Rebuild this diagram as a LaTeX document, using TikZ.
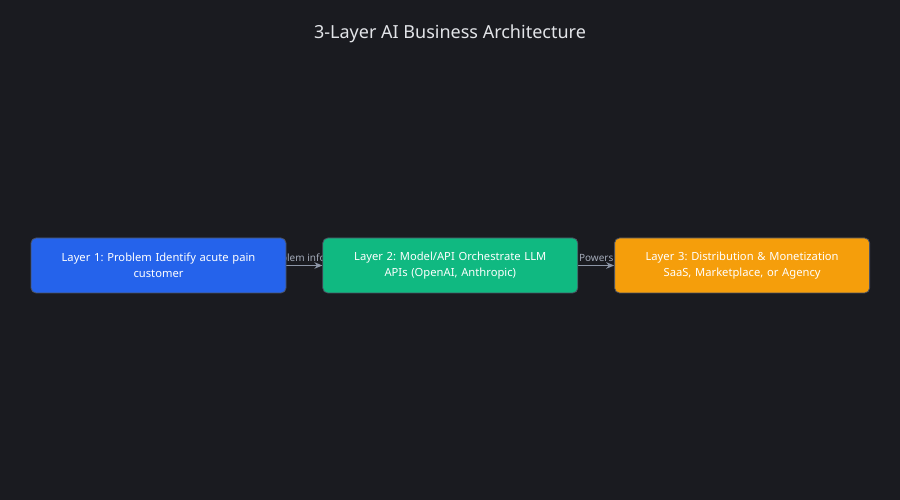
\documentclass[tikz,border=0pt]{standalone}
\usepackage{fontspec}
\setmainfont{Noto Sans}
\usepackage{tikz}
\usetikzlibrary{arrows.meta,positioning}
\definecolor{bgdark}{HTML}{1A1B20}
\definecolor{titletext}{HTML}{E2E4E8}
\definecolor{edgegray}{HTML}{8C95A6}
\definecolor{labgray}{HTML}{A3AAB8}
\definecolor{rim}{HTML}{4B5262}
\definecolor{cblue}{HTML}{2563EB}
\definecolor{cgreen}{HTML}{10B981}
\definecolor{corange}{HTML}{F59E0B}
\pgfdeclarelayer{back}
\pgfsetlayers{back,main}
\frenchspacing
\tikzset{
  >={Stealth[length=8pt,width=6.5pt]},
  layer/.style={draw=rim,line width=0.8pt,rounded corners=5pt,minimum width=255pt,minimum height=55pt,
    text width=235pt,align=center,text=white,font=\fontsize{11.2}{16.5}\selectfont},
  lblue/.style={layer,fill=cblue},
  lgreen/.style={layer,fill=cgreen},
  lorange/.style={layer,fill=corange},
  arr/.style={->,draw=edgegray,line width=1.8pt},
  lab/.style={font=\fontsize{10}{12}\selectfont,text=labgray,above,inner sep=2.5pt},
}
\begin{document}
\begin{tikzpicture}[x=1pt,y=1pt]
  \useasboundingbox (0,0) rectangle (900,500);
  \node[text=titletext,font=\fontsize{18}{21}\selectfont] (title) at (450,466) {3-Layer AI Business Architecture};
  % the three layers
  \node[lblue] (prob) at (158.5,234.5) {Layer 1: Problem Identify acute pain\\customer};
  \node[lgreen,right=36pt of prob] (model) {Layer 2: Model/API Orchestrate LLM\\APIs (OpenAI, Anthropic)};
  \node[lorange,right=36pt of model] (dist) {Layer 3: Distribution \& Monetization\\SaaS, Marketplace, or Agency};
  % links go under the boxes
  \begin{pgfonlayer}{back}
    \fill[bgdark] (0,0) rectangle (900,500);
    \draw[arr] (prob) -- node[lab]{Problem informs} (model);
    \draw[arr] (model) -- node[lab]{Powers} (dist);
  \end{pgfonlayer}
\end{tikzpicture}
\end{document}
